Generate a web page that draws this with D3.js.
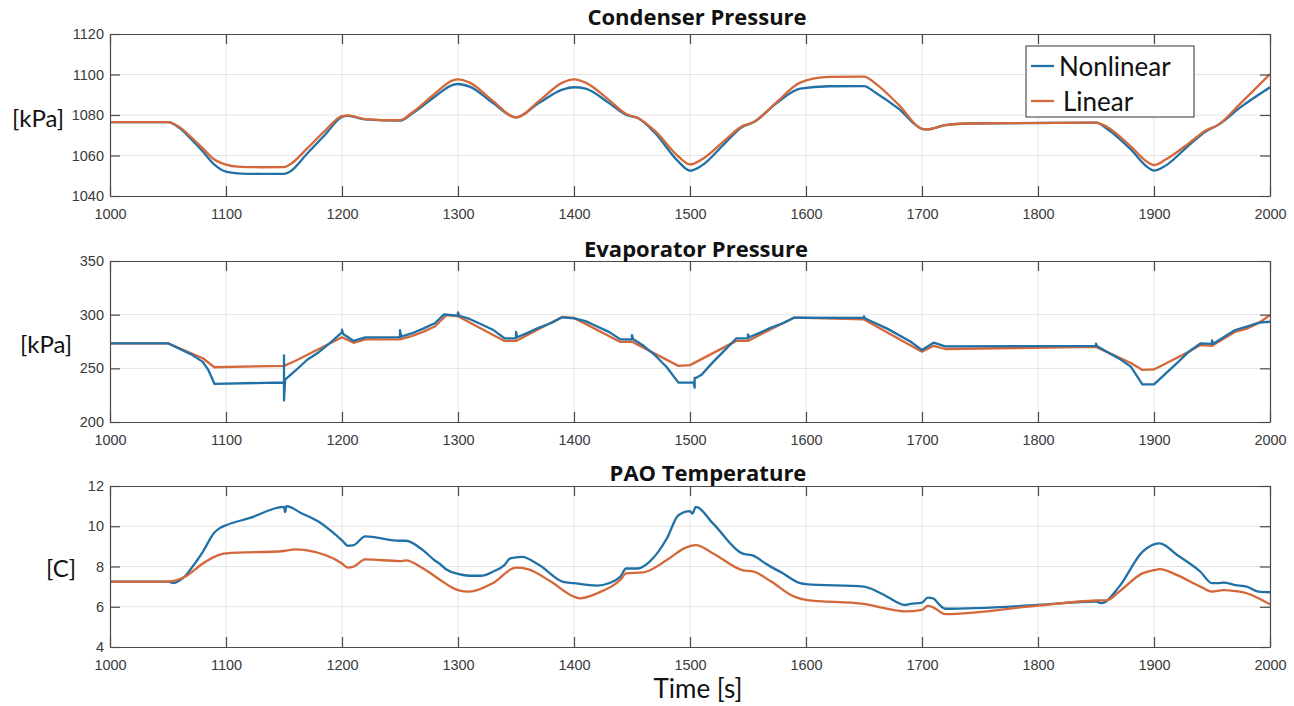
<!DOCTYPE html>
<html>
<head>
<meta charset="utf-8">
<script src="https://cdn.jsdelivr.net/npm/d3@7"></script>
<style>
  html, body { margin: 0; padding: 0; background: #fff; }
  svg { display: block; }
</style>
</head>
<body>
<svg id="chart" width="1294" height="706"></svg>
<script>
// ---- Data -----------------------------------------------------------------
const xTicks = [1000, 1100, 1200, 1300, 1400, 1500, 1600, 1700, 1800, 1900, 2000];
const seriesNames = ["Nonlinear", "Linear"];

// Condenser pressure [kPa]
const condTime = [1000,1050,1060,1070,1080,1090,1100,1110,1130,1150,1155,1170,1185,1200,1205,1220,1250,1260,1280,1295,1300,1310,1330,1350,1370,1390,1400,1410,1430,1445,1455,1470,1490,1500,1510,1530,1545,1555,1575,1595,1620,1650,1660,1680,1700,1705,1720,1740,1850,1860,1880,1895,1900,1910,1930,1945,1955,1975,2000];
const condNonlinear = [1076.5,1076.5,1073.5,1068,1062,1055.5,1052,1051.2,1050.9,1050.9,1052,1061,1070,1079,1079.6,1077.8,1077.2,1080.5,1089,1094.8,1095.3,1094,1086,1078.8,1086,1092.5,1093.7,1093,1086,1080,1078.5,1071,1057,1052.5,1055,1066,1074,1076.5,1086,1093,1094.2,1094.3,1091,1083,1073.2,1072.9,1075,1075.8,1076.2,1073,1063,1054,1052.5,1055,1065,1072,1075,1084,1093.7];
const condLinear = [1076.5,1076.5,1074,1069,1063.5,1058,1055.5,1054.5,1054.2,1054.3,1055.5,1063.5,1072,1079.5,1079.8,1078,1077.4,1081,1090.5,1097,1097.6,1096,1087,1078.8,1087,1096,1097.6,1096,1087.5,1080.5,1078.5,1072,1059.5,1055.6,1058,1067.5,1074.5,1076.5,1086.5,1096,1098.8,1099,1095.5,1085,1073.2,1072.9,1075,1075.8,1076.2,1074,1064.5,1056.5,1055.3,1058,1066,1072.5,1075,1086,1100.2];
const condTicks = [1040, 1060, 1080, 1100, 1120];

// Evaporator pressure [kPa]
const evapNonlinearTime = [1000,1050,1070,1080,1085,1090,1150,1150,1150,1151,1160,1170,1180,1190,1200,1200,1201,1210,1220,1250,1250,1251,1260,1270,1280,1288,1300,1300,1301,1310,1320,1330,1340,1350,1350,1351,1360,1370,1380,1390,1400,1410,1420,1430,1440,1450,1450,1451,1460,1470,1480,1490,1500,1503,1504,1504,1505,1510,1520,1530,1540,1550,1550,1551,1560,1570,1580,1590,1650,1650,1651,1670,1690,1700,1710,1720,1850,1850,1851,1860,1870,1880,1890,1900,1910,1920,1930,1940,1950,1950,1951,1960,1970,1980,1990,2000];
const evapNonlinear = [273.3,273.3,263,256,248,235.6,236.8,262,220,239.5,248,258,265,274,283.5,286,282,275.5,278.8,279,285.5,279.5,282.5,287,292,300.3,299.2,302,299,296,291,286,278,278,284,279,283,288,292,297.5,296.5,294,289,284,277,277,281,277,271,262,251,236.7,236.7,237,232,241,241,244,256,267,278,278,281.5,279,283,288,292,297.3,297,298.5,296.5,287,275,267,273.9,270.5,271,273,270.5,265,259,251.6,235,235,245,255,265.5,273.3,272.7,276,273,279,285.7,288.8,292.5,293.4];
const evapLinearTime = [1000,1050,1080,1090,1150,1160,1200,1210,1220,1250,1260,1270,1280,1290,1300,1340,1350,1390,1400,1440,1450,1490,1500,1540,1550,1590,1650,1700,1710,1720,1850,1880,1890,1900,1930,1940,1950,1970,1980,1990,2000];
const evapLinear = [273.3,273.3,259.4,251,252.3,257,279,273.8,277,277,280,284,289,299.5,298.5,275.5,275.5,298,297,274.6,274.8,252.3,253,275.6,275.6,297.3,295.6,265.5,271,268,270,255,248.5,249,265.5,271.7,271,284,287,292,299.6];
const evapTicks = [200, 250, 300, 350];

// PAO temperature [C]
const paoNonlinearTime = [1000,1050,1055,1060,1065,1070,1080,1090,1095,1100,1120,1150,1151,1152,1165,1180,1190,1200,1205,1210,1220,1250,1255,1270,1280,1285,1290,1300,1310,1320,1330,1340,1345,1355,1370,1390,1400,1420,1430,1440,1445,1455,1465,1480,1490,1500,1502,1505,1520,1545,1555,1565,1580,1595,1600,1650,1655,1670,1685,1690,1700,1705,1710,1715,1720,1800,1850,1855,1870,1890,1900,1905,1920,1940,1950,1955,1960,1970,1980,1990,2000];
const paoNonlinear = [7.25,7.25,7.18,7.3,7.54,7.9,8.73,9.69,9.92,10.05,10.4,10.96,10.7,11.0,10.65,10.22,9.8,9.3,9.03,9.06,9.5,9.28,9.28,8.8,8.3,8.1,7.85,7.63,7.54,7.54,7.74,8.07,8.4,8.48,8.07,7.25,7.17,7.05,7.17,7.5,7.9,7.9,8.23,9.39,10.55,10.75,10.63,10.96,10.13,8.65,8.53,8.15,7.66,7.17,7.12,7.0,6.92,6.5,6.09,6.14,6.21,6.45,6.4,6.1,5.9,6.09,6.26,6.18,7.0,8.73,9.1,9.15,8.57,7.74,7.17,7.17,7.2,7.08,7.0,6.75,6.72];
const paoLinearTime = [1000,1050,1065,1080,1090,1100,1150,1160,1170,1200,1205,1210,1220,1250,1255,1270,1286,1295,1300,1310,1330,1350,1360,1380,1400,1405,1420,1440,1445,1460,1480,1495,1505,1520,1545,1555,1570,1590,1600,1650,1670,1685,1700,1705,1710,1720,1800,1850,1860,1870,1890,1900,1905,1920,1940,1950,1960,1970,1980,1990,2000];
const paoLinear = [7.25,7.25,7.5,8.15,8.48,8.65,8.77,8.85,8.8,8.15,7.94,7.99,8.35,8.27,8.3,7.9,7.28,6.95,6.83,6.75,7.17,7.94,7.87,7.25,6.5,6.42,6.67,7.34,7.66,7.71,8.32,8.9,9.06,8.65,7.82,7.74,7.25,6.5,6.34,6.14,5.9,5.77,5.85,6.04,5.96,5.63,6.06,6.31,6.33,6.75,7.66,7.82,7.87,7.57,7.0,6.75,6.83,6.78,6.67,6.42,6.12];
const paoTicks = [4, 6, 8, 10, 12];

// ---- Layout -------------------------------------------------------------
const colors = { Nonlinear: "#2271a6", Linear: "#d4683a" };
const plotLeft = 110, plotRight = 1270;
const tickFont = "'Liberation Sans', Arial, sans-serif";
const labelFont = "Lato, 'Open Sans', sans-serif";
const titleFont = "'Open Sans', Lato, sans-serif";

const panels = [
  { title: "Condenser Pressure", titleX: 697, titleY: 25, unit: "[kPa]", unitX: 38, unitY: 117,
    top: 34, bottom: 196, domain: [1040, 1120], ticks: condTicks, curve: d3.curveMonotoneX,
    series: [
      { name: "Nonlinear", t: condTime, v: condNonlinear },
      { name: "Linear", t: condTime, v: condLinear }
    ] },
  { title: "Evaporator Pressure", titleX: 696, titleY: 257, unit: "[kPa]", unitX: 46, unitY: 343,
    top: 261, bottom: 422, domain: [200, 350], ticks: evapTicks, curve: d3.curveLinear,
    series: [
      { name: "Linear", t: evapLinearTime, v: evapLinear },
      { name: "Nonlinear", t: evapNonlinearTime, v: evapNonlinear }
    ] },
  { title: "PAO Temperature", titleX: 708, titleY: 481, unit: "[C]", unitX: 61, unitY: 567,
    top: 486, bottom: 647, domain: [4, 12], ticks: paoTicks, curve: d3.curveMonotoneX,
    series: [
      { name: "Nonlinear", t: paoNonlinearTime, v: paoNonlinear },
      { name: "Linear", t: paoLinearTime, v: paoLinear }
    ] }
];

const svg = d3.select("#chart");
const x = d3.scaleLinear().domain([1000, 2000]).range([plotLeft, plotRight]);

panels.forEach((p, i) => {
  const y = d3.scaleLinear().domain(p.domain).range([p.bottom, p.top]);
  const g = svg.append("g");
  const h = p.bottom - p.top;
  const w = plotRight - plotLeft;

  // background
  g.append("rect").attr("x", plotLeft).attr("y", p.top).attr("width", w).attr("height", h)
    .attr("fill", "#fff");

  // grid
  g.append("g").selectAll("line").data(xTicks.slice(1, -1)).join("line")
    .attr("x1", d => x(d)).attr("x2", d => x(d)).attr("y1", p.top).attr("y2", p.bottom)
    .attr("stroke", "#e3e3e3").attr("stroke-width", 1);
  g.append("g").selectAll("line").data(p.ticks.slice(1, -1)).join("line")
    .attr("x1", plotLeft).attr("x2", plotRight).attr("y1", d => y(d)).attr("y2", d => y(d))
    .attr("stroke", "#e3e3e3").attr("stroke-width", 1);

  // lines
  const clipId = "clip" + i;
  svg.append("clipPath").attr("id", clipId).append("rect")
    .attr("x", plotLeft).attr("y", p.top - 1).attr("width", w).attr("height", h + 2);
  const line = d3.line().x(d => x(d[0])).y(d => y(d[1])).curve(p.curve);
  const lg = g.append("g").attr("clip-path", `url(#${clipId})`);
  p.series.forEach(s => {
    const pts = s.t.map((t, k) => [t, s.v[k]]);
    lg.append("path").datum(pts).attr("d", line)
      .attr("fill", "none").attr("stroke", colors[s.name])
      .attr("stroke-width", 2.3).attr("stroke-linejoin", "round");
  });

  // axes (inward ticks on all four sides)
  const axisColor = "#4a4a4a";
  const tickLen = 10;
  const bottomAxis = d3.axisBottom(x).tickValues(xTicks).tickSizeInner(-tickLen).tickSizeOuter(0).tickPadding(13).tickFormat(d3.format("d"));
  const topAxis = d3.axisTop(x).tickValues(xTicks).tickSizeInner(-tickLen).tickSizeOuter(0).tickFormat("");
  const leftAxis = d3.axisLeft(y).tickValues(p.ticks).tickSizeInner(-tickLen).tickSizeOuter(0).tickPadding(6).tickFormat(d3.format("d"));
  const rightAxis = d3.axisRight(y).tickValues(p.ticks).tickSizeInner(-tickLen).tickSizeOuter(0).tickFormat("");

  const styleAxis = sel => {
    sel.select(".domain").attr("stroke", axisColor).attr("stroke-width", 1.2);
    sel.selectAll(".tick line").attr("stroke", axisColor).attr("stroke-width", 1.2);
    sel.selectAll(".tick text").attr("fill", "#3a3a3a").attr("font-family", tickFont).attr("font-size", 14.5);
  };
  g.append("g").attr("transform", `translate(0,${p.bottom})`).call(bottomAxis).call(styleAxis);
  g.append("g").attr("transform", `translate(0,${p.top})`).call(topAxis).call(styleAxis);
  g.append("g").attr("transform", `translate(${plotLeft},0)`).call(leftAxis).call(styleAxis);
  g.append("g").attr("transform", `translate(${plotRight},0)`).call(rightAxis).call(styleAxis);

  // title and unit label
  g.append("text").attr("x", p.titleX).attr("y", p.titleY).attr("text-anchor", "middle")
    .attr("font-family", titleFont).attr("font-weight", "bold").attr("font-size", 22)
    .attr("fill", "#111").text(p.title);
  g.append("text").attr("x", p.unitX).attr("y", p.unitY).attr("text-anchor", "middle")
    .attr("dominant-baseline", "central")
    .attr("font-family", labelFont).attr("font-size", 24).attr("fill", "#111").text(p.unit);
});

// x axis label
svg.append("text").attr("x", 698).attr("y", 698).attr("text-anchor", "middle")
  .attr("font-family", labelFont).attr("font-size", 26).attr("fill", "#111").text("Time [s]");

// legend (top panel)
const legend = svg.append("g");
legend.append("rect").attr("x", 1026).attr("y", 46).attr("width", 168).attr("height", 71)
  .attr("fill", "#fff").attr("stroke", "#333").attr("stroke-width", 1);
const legendRows = [{ name: seriesNames[0], y: 66, tx: 1059 }, { name: seriesNames[1], y: 101, tx: 1063 }];
legendRows.forEach(r => {
  legend.append("line").attr("x1", 1031).attr("x2", 1054).attr("y1", r.y).attr("y2", r.y)
    .attr("stroke", colors[r.name]).attr("stroke-width", 2.3);
  legend.append("text").attr("x", r.tx).attr("y", r.y).attr("dominant-baseline", "central")
    .attr("font-family", labelFont).attr("font-size", 26).attr("fill", "#111").text(r.name);
});
</script>
</body>
</html>
